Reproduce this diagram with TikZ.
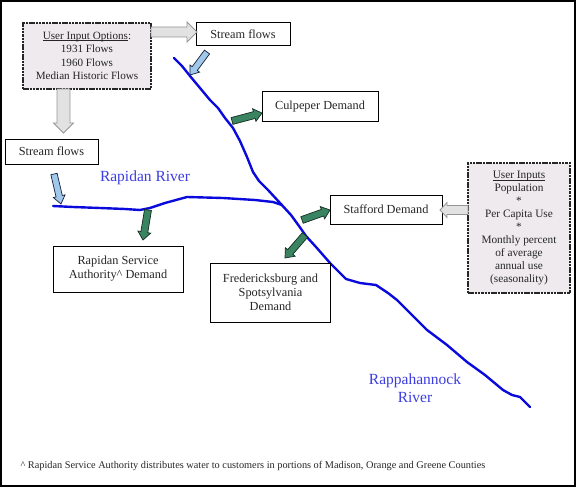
\documentclass[tikz,border=0pt]{standalone}
\usepackage{fontspec}
\setmainfont{Liberation Serif}
\usetikzlibrary{calc}
\definecolor{greybox}{RGB}{238,234,238}
\definecolor{riverblue}{RGB}{10,10,220}
\definecolor{labelblue}{RGB}{60,60,225}
\definecolor{greenfill}{RGB}{58,132,98}
\definecolor{greenline}{RGB}{20,45,32}
\definecolor{bluefill}{RGB}{160,200,232}
\definecolor{blueline}{RGB}{20,30,60}
\definecolor{greyfill}{RGB}{226,226,226}
\definecolor{greyline}{RGB}{150,150,150}
\newcommand{\barrow}[6]{%
  \coordinate (bh) at ($(#3)!#6!(#2)$);
  \draw[#1] ($(#2)!#4!90:(#3)$) -- ($(bh)!#4!90:(#3)$) -- ($(bh)!#5!90:(#3)$) -- (#3)
    -- ($(bh)!#5!-90:(#3)$) -- ($(bh)!#4!-90:(#3)$) -- ($(#2)!#4!-90:(#3)$) -- cycle;
}
\newsavebox{\ulbox}
\newcommand{\myul}[1]{\sbox{\ulbox}{#1}\rlap{\rule[-1.3pt]{\wd\ulbox}{0.5pt}}\usebox{\ulbox}}
\newcommand{\boxfont}{\fontsize{12.3}{14}\selectfont}
\tikzset{
  plainbox/.style={draw=black, line width=1pt, fill=white, inner sep=0pt, align=center, font=\boxfont, text=black!85},
  inputbox/.style={draw=black!85, line width=1.3pt, dash pattern=on 2.5pt off 0.8pt, fill=greybox, inner sep=0pt, align=center, text=black!85},
  river/.style={draw=riverblue, line width=2.4pt, line join=round, line cap=round},
  rivlabel/.style={text=labelblue, font=\fontsize{15.5}{18}\selectfont, align=center},
  greenarrow/.style={fill=greenfill, draw=greenline, line width=0.7pt, line join=miter},
  bluearrow/.style={fill=bluefill, draw=blueline, line width=0.7pt},
  greyarrow/.style={fill=greyfill, draw=greyline, line width=0.8pt}
}
\begin{document}
\begin{tikzpicture}[x=1pt, y=-1pt]
\useasboundingbox (0,0) rectangle (576,487);
\draw[line width=2pt] (1,1) rectangle (575,486);

% rivers
\draw[river] (174,58) -- (182,66) -- (190,76) -- (200,88) -- (210,100) -- (218,108) -- (225,118)
  -- (233,128) -- (240,141) -- (247,157) -- (253,172) -- (259,181) -- (268,190) -- (280,203)
  -- (291,215) -- (299,226) -- (306,236) -- (316,247) -- (330,263) -- (346,279) -- (360,283)
  -- (376,285) -- (388,293) -- (397,300) -- (412,315) -- (427,330) -- (447,345) -- (467,362)
  -- (485,375) -- (503,390) -- (512,395) -- (520,397) -- (525,402) -- (530,407);
\draw[river] (53,206) -- (73,207) -- (100,208) -- (125,209) -- (140,210) -- (150,208) -- (165,203)
  -- (187,197) -- (223,198) -- (255,200) -- (273,202) -- (282,205);

% boxes
\node[inputbox, minimum width=128pt, minimum height=66pt, font=\fontsize{11.1}{13.3}\selectfont] (uio) at (87,56)
  {\myul{User Input Options}:\\1931 Flows\\1960 Flows\\Median Historic Flows};
\node[plainbox, minimum width=94pt, minimum height=23pt] (sf1) at (243,34.5) {Stream flows};
\node[plainbox, minimum width=93pt, minimum height=25pt] (sf2) at (51.5,151.5) {Stream flows};
\node[plainbox, minimum width=116pt, minimum height=29pt] (culp) at (320,106.5) {Culpeper Demand};
\node[plainbox, minimum width=112pt, minimum height=29pt] (staff) at (386,209.5) {Stafford Demand};
\node[plainbox, minimum width=130pt, minimum height=46pt] (rsa) at (118,269) {Rapidan Service\\Authority\^{} Demand};
\node[plainbox, minimum width=120pt, minimum height=59pt] (fred) at (270.5,292.5) {Fredericksburg and\\Spotsylvania\\Demand};
\node[inputbox, minimum width=102pt, minimum height=130pt, font=\fontsize{11.3}{12.9}\selectfont] (ui) at (519,228)
  {\myul{User Inputs}\\Population\\*\\Per Capita Use\\*\\Monthly percent\\of average\\annual use\\(seasonality)};

% labels
\node[rivlabel] (rapl) at (145,178) {Rapidan River};
\node[rivlabel] (rapp) at (415,388) {Rappahannock\\River};
\node[font=\fontsize{10.3}{12}\selectfont, text=black!85, anchor=west] (foot) at (17,466)
  {\^{} Rapidan Service Authority distributes water to customers in portions of Madison, Orange and Greene Counties};

% arrow end points
\coordinate (gr1s) at (151,32);  \coordinate (gr1e) at (197,32);
\coordinate (gr2s) at (63.5,89); \coordinate (gr2e) at (63.5,133);
\coordinate (gr3s) at (468,210); \coordinate (gr3e) at (440,210);
\coordinate (b1s) at (207,52);   \coordinate (b1e) at (190,75);
\coordinate (b2s) at (54,174);   \coordinate (b2e) at (61,204);
\coordinate (g1s) at (232,121);  \coordinate (g1e) at (262,113);
\coordinate (g2s) at (302,220);  \coordinate (g2e) at (330,210);
\coordinate (g3s) at (305,235);  \coordinate (g3e) at (285,258);
\coordinate (g4s) at (148,210);  \coordinate (g4e) at (143,240);

% block arrows
\barrow{greyarrow}{gr1s}{gr1e}{5pt}{10pt}{10pt}
\barrow{greyarrow}{gr2s}{gr2e}{6.5pt}{10pt}{10pt}
\barrow{greyarrow}{gr3s}{gr3e}{4.5pt}{7.5pt}{7pt}
\barrow{bluearrow}{b1s}{b1e}{3.2pt}{6pt}{8pt}
\barrow{bluearrow}{b2s}{b2e}{3.2pt}{6pt}{8pt}
\barrow{greenarrow}{g1s}{g1e}{3.5pt}{6.5pt}{8pt}
\barrow{greenarrow}{g2s}{g2e}{3.5pt}{6.5pt}{8pt}
\barrow{greenarrow}{g3s}{g3e}{3.5pt}{6.5pt}{8pt}
\barrow{greenarrow}{g4s}{g4e}{3.5pt}{6.5pt}{8pt}
\end{tikzpicture}
\end{document}
